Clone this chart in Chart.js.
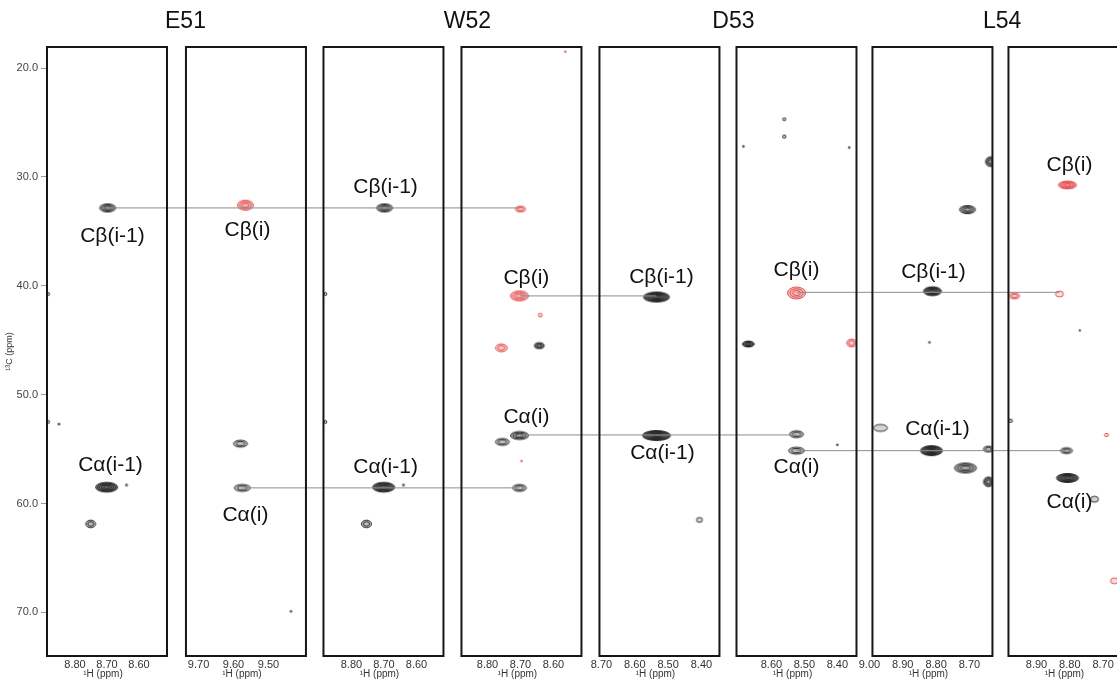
<!DOCTYPE html>
<html>
<head>
<meta charset="utf-8">
<script src="https://cdn.jsdelivr.net/npm/chart.js@4"></script>
<style>
  html, body { margin: 0; background: #fff; }
</style>
</head>
<body>
<canvas id="strips" width="1117" height="679"></canvas>
<script>
const residues = ['E51', 'W52', 'D53', 'L54'];

// 1H window of each strip, [left, right] in ppm
const hRange = [
  [8.8875, 8.5125], [9.736, 9.393], [8.886, 8.517], [8.879, 8.515],
  [8.706, 8.346], [8.706, 8.342], [8.991, 8.631], [8.984, 8.624]
];
const hTicks = [
  [8.80, 8.70, 8.60], [9.70, 9.60, 9.50], [8.80, 8.70, 8.60], [8.80, 8.70, 8.60],
  [8.70, 8.60, 8.50, 8.40], [8.60, 8.50, 8.40], [9.00, 8.90, 8.80, 8.70], [8.90, 8.80, 8.70]
];
const cRange = [18.07, 74.0];
const cTicks = [20, 30, 40, 50, 60, 70];

// peaks: [strip, 1H, 13C, 1H width, 13C width, contour levels]
const blackPeaks = [
  [0, 8.698, 32.85, 0.050, 0.75, 3], [0, 8.701, 58.50, 0.069, 0.90, 5],
  [0, 8.751, 61.87, 0.031, 0.70, 2], [0, 8.884, 40.75, 0.008, 0.30, 1],
  [0, 8.884, 52.50, 0.008, 0.30, 1], [0, 8.850, 52.70, 0.008, 0.15, 1],
  [0, 8.639, 58.30, 0.006, 0.20, 1],
  [1, 9.580, 54.50, 0.040, 0.64, 2], [1, 9.575, 58.56, 0.046, 0.64, 2],
  [1, 9.436, 69.90, 0.006, 0.15, 1],
  [2, 8.698, 32.85, 0.049, 0.75, 3], [2, 8.701, 58.50, 0.068, 0.90, 5],
  [2, 8.754, 61.87, 0.031, 0.70, 2], [2, 8.880, 40.75, 0.008, 0.30, 1],
  [2, 8.880, 52.50, 0.008, 0.30, 1], [2, 8.640, 58.30, 0.006, 0.20, 1],
  [3, 8.643, 45.50, 0.030, 0.55, 3], [3, 8.703, 53.75, 0.055, 0.73, 3],
  [3, 8.755, 54.34, 0.042, 0.64, 2], [3, 8.703, 58.56, 0.042, 0.64, 2],
  [4, 8.535, 41.03, 0.078, 0.92, 6], [4, 8.535, 53.75, 0.084, 0.92, 6],
  [4, 8.406, 61.50, 0.018, 0.45, 1],
  [5, 8.670, 45.35, 0.036, 0.55, 4], [5, 8.524, 53.63, 0.042, 0.64, 2],
  [5, 8.524, 55.14, 0.048, 0.64, 2], [5, 8.561, 24.70, 0.010, 0.25, 1],
  [5, 8.561, 26.30, 0.010, 0.30, 1], [5, 8.685, 27.20, 0.004, 0.20, 1],
  [5, 8.364, 27.30, 0.004, 0.20, 1], [5, 8.400, 54.60, 0.006, 0.15, 1],
  [6, 8.706, 33.00, 0.048, 0.75, 3], [6, 8.637, 28.60, 0.030, 0.90, 3],
  [6, 8.811, 40.50, 0.054, 0.82, 5], [6, 8.814, 55.14, 0.066, 0.92, 6],
  [6, 8.712, 56.73, 0.066, 0.92, 3], [6, 8.643, 58.00, 0.030, 0.90, 3],
  [6, 8.643, 55.00, 0.030, 0.55, 2], [6, 8.967, 53.05, 0.042, 0.64, 1],
  [6, 8.820, 45.20, 0.006, 0.15, 1],
  [7, 8.978, 52.40, 0.012, 0.30, 1], [7, 8.810, 55.14, 0.036, 0.55, 2],
  [7, 8.807, 57.65, 0.066, 0.83, 5], [7, 8.726, 59.60, 0.024, 0.55, 1],
  [7, 8.770, 44.10, 0.004, 0.15, 1]
];
const redPeaks = [
  [1, 9.566, 32.60, 0.046, 0.92, 3],
  [3, 8.700, 32.95, 0.030, 0.55, 2], [3, 8.703, 40.93, 0.055, 0.92, 3],
  [3, 8.640, 42.70, 0.012, 0.35, 1], [3, 8.758, 45.70, 0.036, 0.73, 2],
  [3, 8.697, 56.10, 0.006, 0.15, 1], [3, 8.564, 18.50, 0.006, 0.15, 1],
  [5, 8.524, 40.66, 0.055, 1.10, 3], [5, 8.357, 45.25, 0.030, 0.73, 2],
  [7, 8.807, 30.74, 0.054, 0.73, 4], [7, 8.831, 40.75, 0.024, 0.55, 1],
  [7, 8.966, 40.93, 0.030, 0.55, 2], [7, 8.690, 53.70, 0.012, 0.30, 1],
  [7, 8.666, 67.10, 0.024, 0.55, 1]
];

// sequential walk: [13C, [strip, 1H], [strip, 1H]]
const links = [
  [32.85, [0, 8.698], [3, 8.700]],
  [58.56, [1, 9.575], [3, 8.703]],
  [40.93, [3, 8.703], [4, 8.535]],
  [53.70, [3, 8.703], [5, 8.524]],
  [40.60, [5, 8.524], [7, 8.831]],
  [55.14, [5, 8.524], [7, 8.810]]
];

// assignment labels: [strip, 1H, 13C, text]
const peakLabels = [
  [0, 8.683, 35.43, 'Cβ(i-1)'], [0, 8.689, 56.45, 'Cα(i-1)'],
  [1, 9.560, 34.87, 'Cβ(i)'], [1, 9.566, 61.05, 'Cα(i)'],
  [2, 8.695, 30.93, 'Cβ(i-1)'], [2, 8.695, 56.64, 'Cα(i-1)'],
  [3, 8.682, 39.28, 'Cβ(i)'], [3, 8.682, 52.05, 'Cα(i)'],
  [4, 8.520, 39.19, 'Cβ(i-1)'], [4, 8.517, 55.35, 'Cα(i-1)'],
  [5, 8.524, 38.55, 'Cβ(i)'], [5, 8.524, 56.64, 'Cα(i)'],
  [6, 8.808, 38.73, 'Cβ(i-1)'], [6, 8.796, 53.15, 'Cα(i-1)'],
  [7, 8.801, 28.90, 'Cβ(i)'], [7, 8.801, 59.85, 'Cα(i)']
];

// strip layout along the shared x scale, in strip widths
const stripStart = [0, 1.158, 2.304, 3.454, 4.604, 5.746, 6.879, 8.0125];
const residueAt = [1.154, 3.504, 5.72, 7.96];
const FONT = "'Liberation Sans', Arial, Helvetica, sans-serif";

const toX = (s, h) => stripStart[s] + (hRange[s][0] - h) / (hRange[s][0] - hRange[s][1]);

const xTickVals = [], xTickText = [];
hTicks.forEach((arr, s) => arr.forEach(t => {
  xTickVals.push(toX(s, t));
  xTickText.push(t.toFixed(2));
}));

function makeSprite(w, h, lv, rgb) {
  const pad = 2;
  const cv = document.createElement('canvas');
  cv.width = Math.ceil(w) + pad * 2;
  cv.height = Math.ceil(h) + pad * 2;
  const g = cv.getContext('2d');
  const cx = cv.width / 2, cy = cv.height / 2;
  g.fillStyle = `rgba(${rgb},${Math.min(0.08 + 0.1 * lv, 0.6)})`;
  g.beginPath();
  g.ellipse(cx, cy, w / 2, h / 2, 0, 0, Math.PI * 2);
  g.fill();
  g.lineWidth = 1;
  g.strokeStyle = `rgba(${rgb},0.85)`;
  for (let k = 0; k < lv; k++) {
    const f = 1 - k / (lv + 0.5);
    g.beginPath();
    g.ellipse(cx, cy, Math.max(w / 2 * f, 0.5), Math.max(h / 2 * f, 0.5), 0, 0, Math.PI * 2);
    g.stroke();
  }
  return cv;
}

function peakStyle(rgb) {
  return ctx => {
    const p = ctx.raw;
    const xs = ctx.chart.scales.x, ys = ctx.chart.scales.y;
    const w = Math.abs(xs.getPixelForValue(toX(p.s, p.h - p.dh / 2)) - xs.getPixelForValue(toX(p.s, p.h + p.dh / 2)));
    const h = Math.abs(ys.getPixelForValue(p.y + p.dc / 2) - ys.getPixelForValue(p.y - p.dc / 2));
    return makeSprite(Math.max(w || 2, 1.5), Math.max(h || 2, 1.5), p.lv, rgb);
  };
}

const toPoints = list => list.map(([s, h, c, dh, dc, lv]) => ({ x: toX(s, h), y: c, s, h, dh, dc, lv }));

const walkSets = links.map(([c, a, b]) => ({
  walk: true,
  type: 'scatter',
  showLine: true,
  data: [{ x: toX(a[0], a[1]), y: c }, { x: toX(b[0], b[1]), y: c }],
  borderColor: '#8c8c8c',
  borderWidth: 1,
  pointRadius: 0,
  order: 0
}));

let masked = false;
const stripFrame = {
  id: 'stripFrame',
  beforeDatasetsDraw() { masked = false; },
  beforeDatasetDraw(chart, args) {
    if (masked || !chart.data.datasets[args.index].walk) return;
    masked = true;
    const g = chart.ctx, xs = chart.scales.x, a = chart.chartArea;
    g.save();
    g.fillStyle = '#fff';
    for (let s = 0; s < stripStart.length - 1; s++) {
      const l = xs.getPixelForValue(stripStart[s] + 1);
      const r = xs.getPixelForValue(stripStart[s + 1]);
      g.fillRect(l, a.top - 4, r - l, a.bottom - a.top + 8);
    }
    g.restore();
  },
  afterDatasetsDraw(chart) {
    const g = chart.ctx, xs = chart.scales.x, ys = chart.scales.y;
    const top = ys.getPixelForValue(cRange[0]), bottom = ys.getPixelForValue(cRange[1]);
    g.save();
    g.strokeStyle = '#161616';
    g.lineWidth = 2;
    stripStart.forEach(s0 => {
      const l = xs.getPixelForValue(s0), r = xs.getPixelForValue(s0 + 1);
      g.strokeRect(l, top, r - l, bottom - top);
    });
    g.fillStyle = '#111';
    g.textAlign = 'center';
    g.textBaseline = 'middle';
    g.font = `21px ${FONT}`;
    peakLabels.forEach(([s, h, c, t]) => {
      g.fillText(t, xs.getPixelForValue(toX(s, h)), ys.getPixelForValue(c));
    });
    g.font = `23px ${FONT}`;
    residues.forEach((r, i) => g.fillText(r, xs.getPixelForValue(residueAt[i]), 22));
    g.font = `10px ${FONT}`;
    g.fillStyle = '#333';
    stripStart.forEach(s0 => {
      g.fillText('¹H (ppm)', xs.getPixelForValue(s0 + 0.5) - 4, 674);
    });
    g.restore();
  }
};

new Chart(document.getElementById('strips'), {
  type: 'scatter',
  data: {
    datasets: [
      ...walkSets,
      { data: toPoints(redPeaks), pointStyle: peakStyle('226,62,62'), pointRadius: 3, order: 1 },
      { data: toPoints(blackPeaks), pointStyle: peakStyle('22,22,22'), pointRadius: 3, order: 1 }
    ]
  },
  options: {
    responsive: false,
    animation: false,
    events: [],
    layout: { autoPadding: false, padding: { top: 47, left: 0, right: 0, bottom: 0 } },
    plugins: { legend: { display: false }, tooltip: { enabled: false } },
    scales: {
      x: {
        type: 'linear',
        min: 0,
        max: 8.917,
        border: { display: false },
        grid: { display: false, drawTicks: false },
        afterBuildTicks: sc => { sc.ticks = xTickVals.map(v => ({ value: v })); },
        afterFit: sc => {
          sc.height = 23;
          sc.paddingLeft = 0;
          sc.paddingRight = 0;
        },
        ticks: {
          autoSkip: false, maxRotation: 0, padding: 2, color: '#333',
          font: { size: 11, family: FONT },
          callback: (v, i) => xTickText[i]
        }
      },
      y: {
        type: 'linear',
        reverse: true,
        min: cRange[0],
        max: cRange[1],
        border: { display: false },
        grid: { drawOnChartArea: false, tickLength: 6, color: '#999' },
        afterBuildTicks: sc => { sc.ticks = cTicks.map(v => ({ value: v })); },
        afterFit: sc => {
          sc.width = 47;
          sc.paddingTop = 0;
          sc.paddingBottom = 0;
        },
        ticks: {
          padding: 3, color: '#444',
          font: { size: 11, family: FONT },
          callback: v => v.toFixed(1)
        },
        title: {
          display: true, text: '¹³C (ppm)', color: '#333',
          font: { size: 9, family: FONT },
          padding: { top: 4, bottom: 0 }
        }
      }
    }
  },
  plugins: [stripFrame]
});
</script>
</body>
</html>
